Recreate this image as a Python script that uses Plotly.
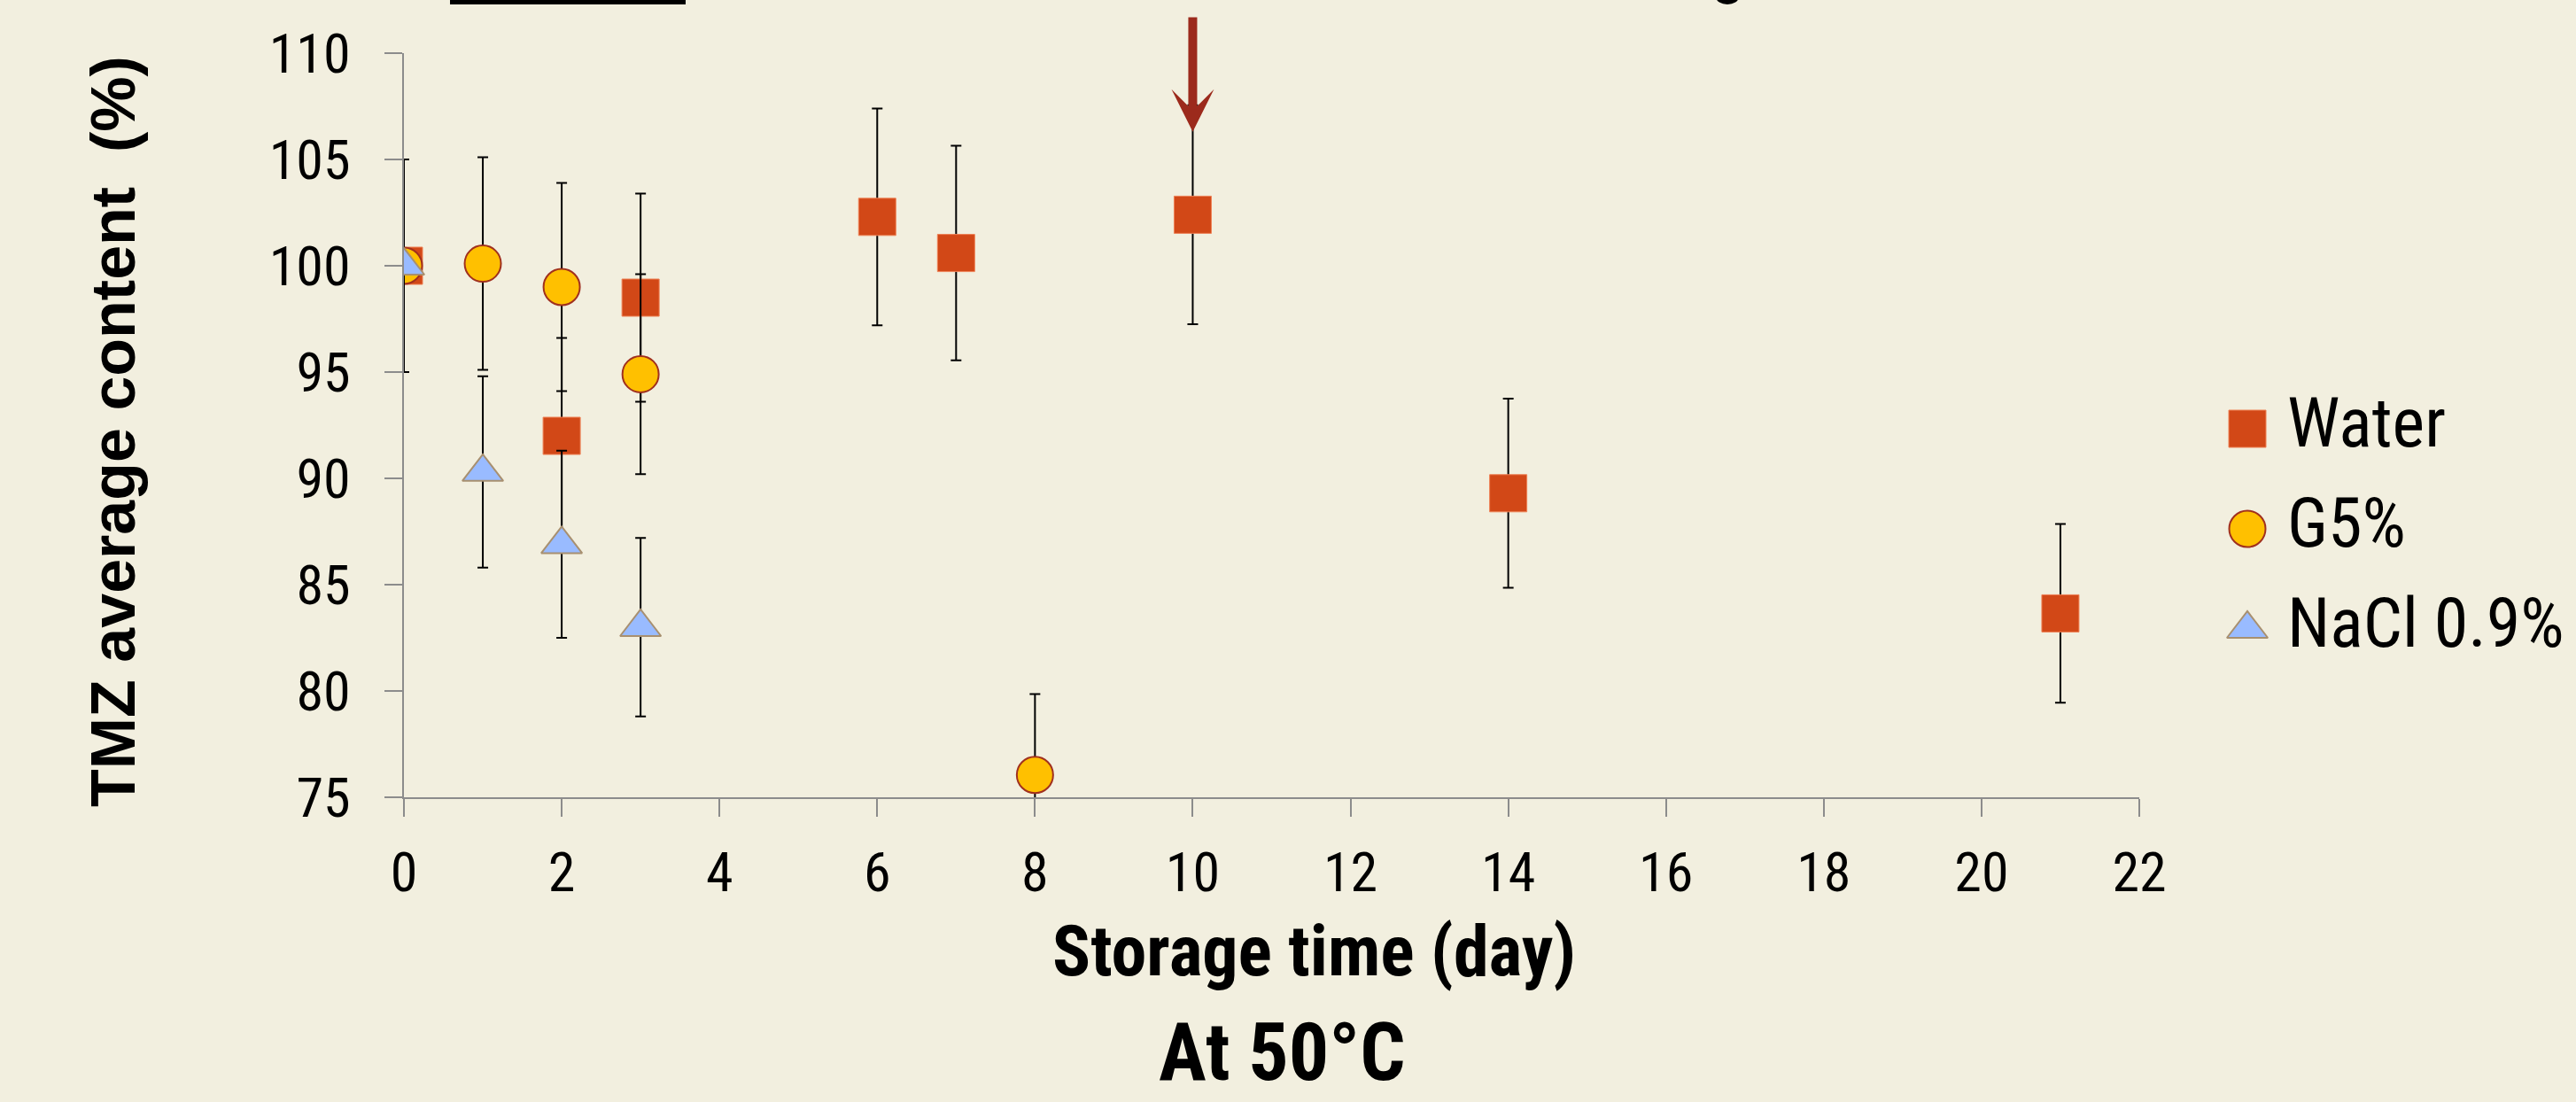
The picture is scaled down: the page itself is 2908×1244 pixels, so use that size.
import plotly.graph_objects as go

# ---------------- data ----------------
water_days = [0, 2, 3, 6, 7, 10, 14, 21]
water_vals = [100.0, 92.0, 98.5, 102.3, 100.6, 102.4, 89.3, 83.65]
water_err = [5.0, 4.6, 4.9, 5.1, 5.05, 5.15, 4.45, 4.2]

g5_days = [0, 1, 2, 3, 8]
g5_vals = [100.0, 100.1, 99.0, 94.9, 76.05]
g5_err = [5.0, 5.0, 4.9, 4.7, 3.8]

nacl_days = [0, 1, 2, 3]
nacl_vals = [100.0, 90.3, 86.9, 83.0]
nacl_err = [5.0, 4.5, 4.4, 4.2]

series_names = ["Water", "G5%", "NaCl 0.9%"]
x_ticks = list(range(0, 23, 2))
y_ticks = [75, 80, 85, 90, 95, 100, 105, 110]
arrow_day = 10
arrow_tip = 106.3
arrow_tail = 111.75

x_title = "Storage time (day)"
y_title = "TMZ average content  (%)"
caption = "At 50°C"

# ---------------- style ----------------
BG = "#F2EFDF"
NARROW = "Liberation Sans Narrow, Arial Narrow, Roboto Condensed, DejaVu Sans Condensed, sans-serif"
AXIS_GRAY = "#8C8C8C"

symbols = ["square", "circle", "triangle-up"]
fills = ["#D24817", "#FFC000", "#99BBFF"]
edges = ["#EE8055", "#A0301E", "#A89070"]
edge_w = [1, 2, 2]
sizes = [42, 41, 40]

W, H = 2908, 1244
ML, MR, MT, MB = 456, 0, 60, 344
PLOT_RIGHT = 2415          # pixel of x = 22
PWP = W - ML - MR          # paper width in px
PH = H - MT - MB


def px_x(p):
    return (p - ML) / PWP


def px_y(p):
    return (H - MB - p) / PH


err_style = dict(type="data", color="#000000", thickness=2, width=6, visible=True)

fig = go.Figure()
data_sets = [(water_days, water_vals, water_err),
             (g5_days, g5_vals, g5_err),
             (nacl_days, nacl_vals, nacl_err)]
for i, (xs, ys, es) in enumerate(data_sets):
    fig.add_trace(go.Scatter(
        x=xs, y=ys, name=series_names[i], mode="markers", showlegend=False,
        marker=dict(symbol=symbols[i], size=sizes[i], color=fills[i], opacity=1,
                    line=dict(color=edges[i], width=edge_w[i])),
        error_y=dict(array=es, **err_style),
        xaxis="x", yaxis="y",
    ))

# legend drawn on its own small hidden axes (large symbols like the original)
fig.add_trace(go.Scatter(
    x=[0] * len(series_names), y=series_names, mode="markers", showlegend=False,
    hoverinfo="skip", cliponaxis=False,
    marker=dict(symbol=symbols, size=sizes, color=fills, opacity=1,
                line=dict(color=edges, width=edge_w)),
    xaxis="x2", yaxis="y2",
))
fig.add_trace(go.Scatter(
    x=[1] * len(series_names), y=series_names, mode="text", showlegend=False,
    text=series_names, textposition="middle right", hoverinfo="skip", cliponaxis=False,
    textfont=dict(family=NARROW, size=78, color="#000000"),
    xaxis="x2", yaxis="y2",
))

main_dom_x = [0, px_x(PLOT_RIGHT)]
LEG_CX, LEG_STEP = 2537, 45
fig.update_layout(
    xaxis=dict(
        domain=main_dom_x,
        range=[0, 22], tickvals=x_ticks, ticktext=[str(v) for v in x_ticks],
        showline=True, linecolor=AXIS_GRAY, linewidth=2,
        ticks="outside", ticklen=20, tickwidth=2, tickcolor=AXIS_GRAY,
        tickfont=dict(family=NARROW, size=62, color="#000000"),
        ticklabelstandoff=10, automargin=False,
        showgrid=False, zeroline=False,
    ),
    yaxis=dict(
        range=[75, 110], tickvals=y_ticks, ticktext=[str(v) for v in y_ticks],
        showline=True, linecolor=AXIS_GRAY, linewidth=2,
        ticks="outside", ticklen=20, tickwidth=2, tickcolor=AXIS_GRAY,
        tickfont=dict(family=NARROW, size=62, color="#000000"),
        ticklabelstandoff=26, automargin=False,
        showgrid=False, zeroline=False,
    ),
    xaxis2=dict(
        domain=[px_x(LEG_CX - LEG_STEP), px_x(LEG_CX + LEG_STEP)], range=[-1, 1],
        anchor="y2", visible=False, fixedrange=True, automargin=False,
    ),
    yaxis2=dict(
        domain=[px_y(710 + 56.5), px_y(484 - 56.5)], range=[2.5, -0.5],
        type="category", categoryarray=series_names, categoryorder="array",
        anchor="x2", visible=False, fixedrange=True, automargin=False,
    ),
)

annotations = [
    dict(x=arrow_day, y=arrow_tip, ax=arrow_day, ay=arrow_tail, xref="x", yref="y",
         axref="x", ayref="y", text="", showarrow=True, arrowhead=3,
         arrowwidth=10, arrowsize=0.8, arrowcolor="#9C2A1C", standoff=0),
    dict(x=px_x(1483), y=px_y(1074), xref="paper", yref="paper", text=f"<b>{x_title}</b>",
         showarrow=False, xanchor="center", yanchor="middle",
         font=dict(family=NARROW, size=80, color="#000000")),
    dict(x=px_x(1447), y=px_y(1243), xref="paper", yref="paper", text=f"<b>{caption}</b>",
         showarrow=False, xanchor="center", yanchor="bottom",
         font=dict(family=NARROW, size=90, color="#000000")),
    dict(x=px_x(128), y=px_y(487), xref="paper", yref="paper", text=f"<b>{y_title}</b>",
         showarrow=False, xanchor="center", yanchor="middle", textangle=-90,
         font=dict(family="Liberation Sans, Arial, sans-serif", size=70, color="#000000")),
]

fig.update_layout(
    width=W, height=H,
    margin=dict(l=ML, r=MR, t=MT, b=MB, pad=0, autoexpand=False),
    paper_bgcolor=BG, plot_bgcolor=BG,
    showlegend=False,
    annotations=annotations,
    shapes=[
        dict(type="rect", xref="paper", yref="paper",
             x0=px_x(508), x1=px_x(774), y0=px_y(5), y1=px_y(-5),
             fillcolor="#000000", line=dict(width=0), layer="above"),
        dict(type="circle", xref="paper", yref="paper",
             x0=px_x(1937), x1=px_x(1963), y0=px_y(5), y1=px_y(-12),
             fillcolor="#000000", line=dict(width=0), layer="above"),
    ],
)

fig.write_html(
    "out.html",
    config={"displayModeBar": False},
    post_script=("document.body.style.margin='0';document.body.style.padding='0';"
                 "document.body.style.overflow='hidden';"
                 "document.body.style.background='" + BG + "';"),
)
